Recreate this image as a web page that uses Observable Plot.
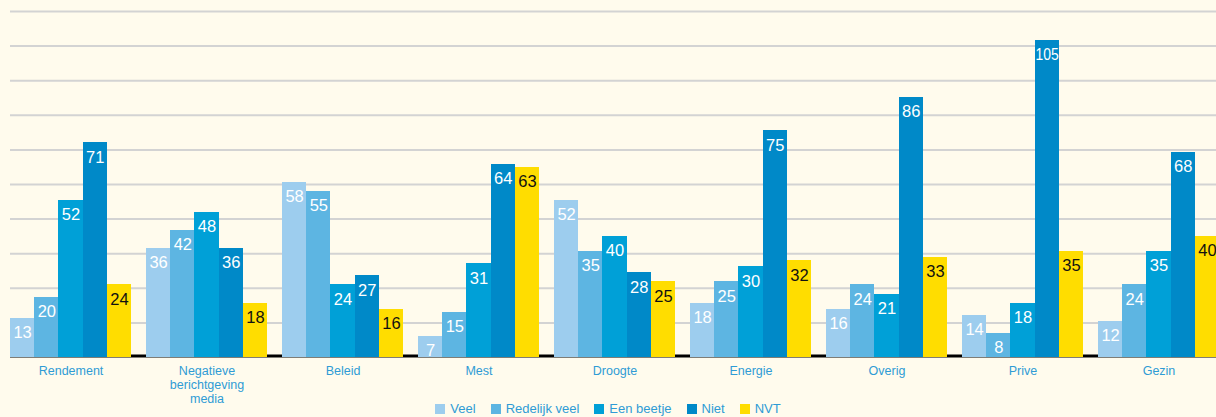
<!DOCTYPE html>
<html>
<head>
<meta charset="utf-8">
<script src="https://cdn.jsdelivr.net/npm/d3@7"></script>
<script src="https://cdn.jsdelivr.net/npm/@observablehq/plot@0.6"></script>
<style>
  html, body { margin: 0; padding: 0; background: #fffbed; overflow: hidden; width: 1216px; height: 417px; }
  #chart { width: 1216px; height: 400px; overflow: visible; }
  #chart svg { display: block; background: #fffbed; max-width: none !important; overflow: visible; }
  #legend { display: flex; justify-content: center; align-items: center; gap: 15px; height: 17px;
            font-family: "Liberation Sans", Arial, sans-serif; font-size: 13px; color: #2f9bd5; width: 1216px;
            position: relative; }
  #legend .item { display: flex; align-items: center; gap: 5px; }
  #legend .sw { width: 10px; height: 10px; display: inline-block; }
</style>
</head>
<body>
<div id="chart"></div>
<div id="legend"></div>
<script>
const categories = ["Rendement", "Negatieve\nberichtgeving\nmedia", "Beleid", "Mest", "Droogte", "Energie", "Overig", "Prive", "Gezin"];
const seriesNames = ["Veel", "Redelijk veel", "Een beetje", "Niet", "NVT"];
const seriesColors = ["#9dcdee", "#5db5e2", "#00a0d7", "#0089c8", "#ffdd00"];
const veel         = [13, 36, 58, 7, 52, 18, 16, 14, 12];
const redelijkVeel = [20, 42, 55, 15, 35, 25, 24, 8, 24];
const eenBeetje    = [52, 48, 24, 31, 40, 30, 21, 18, 35];
const niet         = [71, 36, 27, 64, 28, 75, 86, 105, 68];
const nvt          = [24, 18, 16, 63, 25, 32, 33, 35, 40];
const gridValues   = [11.45, 22.9, 34.35, 45.8, 57.25, 68.7, 80.15, 91.6, 103.05, 114.5];

const seriesValues = [veel, redelijkVeel, eenBeetje, niet, nvt];

const font = "Liberation Sans, Arial, sans-serif";
const W = 1230, ML = 10, MR = 11, PAD = 0.11;
const step = (W - ML - MR) / (categories.length - PAD);
const bw = step * (1 - PAD);
const sub = bw / seriesNames.length;

const barMarks = [];
const textMarks = [];
seriesNames.forEach((s, j) => {
  const data = categories.map((c, i) => ({category: c, series: s, value: seriesValues[j][i]}));
  barMarks.push(Plot.barY(data, {
    x: "category", y: "value", fill: seriesColors[j],
    insetLeft: j * sub, insetRight: (seriesNames.length - 1 - j) * sub,
    shapeRendering: "crispEdges"
  }));
  textMarks.push(Plot.text(data, {
    x: "category", y: "value", text: d => String(d.value),
    dx: (j - (seriesNames.length - 1) / 2) * sub,
    lineAnchor: "top", dy: 8, fontSize: 16.5,
    fill: s === "NVT" ? "#111" : "#fff",
    className: "vlabel"
  }));
});

const chart = Plot.plot({
  width: W,
  height: 400,
  marginLeft: ML,
  marginRight: MR,
  marginTop: 11,
  marginBottom: 43,
  style: {background: "#fffbed", fontFamily: font, overflow: "visible"},
  x: {domain: categories, paddingInner: PAD, paddingOuter: 0, round: false, label: null, axis: null},
  y: {domain: [0, 114.5], axis: null},
  marks: [
    Plot.ruleY(gridValues, {stroke: "#d3d3d3", strokeWidth: 2}),
    Plot.ruleY([0], {stroke: "#000", strokeWidth: 3, dy: -1.5}),
    ...barMarks,
    ...textMarks,
    Plot.axisX({anchor: "bottom", tickSize: 0, tickPadding: 7, fontSize: 12.5, lineHeight: 1.15,
      fill: "#2f9bd5", label: null})
  ]
});
document.getElementById("chart").appendChild(chart);

// squeeze value labels that are wider than their bar (as in the reference)
d3.select(chart).selectAll(".vlabel text").each(function() {
  const len = this.getComputedTextLength();
  if (len > sub - 1) {
    this.setAttribute("textLength", sub - 1);
    this.setAttribute("lengthAdjust", "spacingAndGlyphs");
  }
});

const legend = document.getElementById("legend");
seriesNames.forEach((s, j) => {
  const item = document.createElement("span");
  item.className = "item";
  const sw = document.createElement("span");
  sw.className = "sw";
  sw.style.background = seriesColors[j];
  const t = document.createElement("span");
  t.textContent = s;
  item.appendChild(sw);
  item.appendChild(t);
  legend.appendChild(item);
});
</script>
</body>
</html>
